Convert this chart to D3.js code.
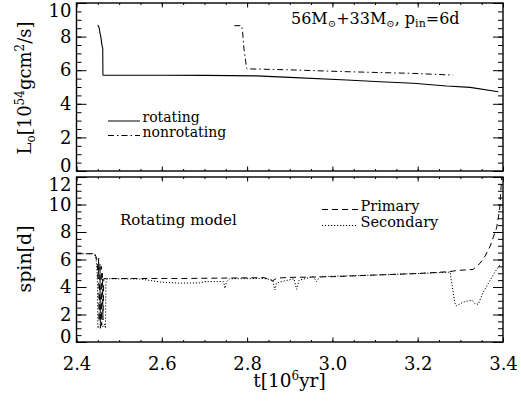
<!DOCTYPE html>
<html><head><meta charset="utf-8">
<script src="https://cdn.jsdelivr.net/npm/d3@7"></script>
<style>body{margin:0;background:#fff}svg{display:block}text{font-family:"DejaVu Serif",serif;fill:#000}</style>
</head><body><svg id="c" width="521" height="405"></svg>
<script>
// ---- data ----
const xTicks = [2.4, 2.6, 2.8, 3.0, 3.2, 3.4];
const topYTicks = [0, 2, 4, 6, 8, 10];
const botYTicks = [0, 2, 4, 6, 8, 10, 12];

const rotT = [2.4497, 2.4515, 2.4535, 2.455, 2.457, 2.459, 2.4605, 2.4615, 2.462, 2.464, 2.60, 2.70, 2.822, 2.90, 3.034, 3.10, 3.189, 3.268, 3.323, 3.389];
const rotL = [8.69, 8.62, 8.49, 8.2, 8.0, 7.6, 7.4, 7.3, 5.71, 5.70, 5.70, 5.69, 5.66, 5.57, 5.42, 5.33, 5.22, 5.06, 4.98, 4.72];

const nonT = [2.770, 2.787, 2.789, 2.793, 2.799, 2.801, 2.90, 3.034, 3.189, 3.283];
const nonL = [8.65, 8.65, 8.4, 7.2, 6.11, 6.08, 6.02, 5.91, 5.81, 5.71];

const priT = [2.400, 2.438, 2.442, 2.447, 2.449, 2.450, 2.451, 2.452, 2.453, 2.455, 2.456, 2.458, 2.459, 2.461, 2.462, 2.464, 2.470, 2.55, 2.65, 2.75, 2.84, 2.86, 2.87, 2.90, 2.95, 3.00, 3.10, 3.20, 3.276, 3.291, 3.330, 3.346, 3.358, 3.370, 3.377, 3.385, 3.392, 3.398];
const priS = [6.42, 6.42, 6.5, 6.1, 5.6, 4.7, 4.6, 6.1, 1.5, 5.7, 1.0, 5.5, 1.2, 5.0, 1.6, 4.6, 4.62, 4.62, 4.62, 4.65, 4.68, 4.45, 4.65, 4.7, 4.72, 4.75, 4.87, 4.98, 5.12, 5.2, 5.28, 5.72, 6.25, 6.98, 7.6, 8.3, 9.6, 12.5];

const secT = [2.400, 2.438, 2.443, 2.447, 2.449, 2.450, 2.454, 2.458, 2.462, 2.466, 2.468, 2.469, 2.472, 2.55, 2.60, 2.643, 2.69, 2.70, 2.745, 2.748, 2.752, 2.759, 2.84, 2.86, 2.865, 2.869, 2.91, 2.916, 2.922, 2.955, 2.963, 2.97, 3.0, 3.1, 3.2, 3.276, 3.287, 3.29, 3.307, 3.327, 3.334, 3.342, 3.353, 3.370, 3.381, 3.395];
const secS = [6.42, 6.42, 6.3, 5.8, 4.5, 1.0, 1.2, 1.4, 1.1, 1.3, 1.0, 4.3, 4.6, 4.58, 4.35, 4.28, 4.3, 4.39, 4.39, 3.9, 4.4, 4.6, 4.62, 4.5, 3.78, 4.3, 4.6, 3.83, 4.5, 4.75, 4.39, 4.75, 4.78, 4.87, 4.98, 5.08, 2.86, 2.62, 2.9, 3.05, 2.8, 2.74, 3.6, 4.5, 5.1, 5.7];

// ---- layout ----
const svg = d3.select("#c");
const L = 76.5, R = 503;
const topP = {y0: 3, y1: 171}, botP = {y0: 177, y1: 342};
const x = d3.scaleLinear().domain([2.4, 3.4]).range([L, R]);
const yT = d3.scaleLinear().domain([0, 10]).range([topP.y1, topP.y0]);
const yB = d3.scaleLinear().domain([0, 12]).range([botP.y1, botP.y0]);
const xMinor = d3.range(2.4, 3.4001, 0.05).map(v => +v.toFixed(2));
const yTMinor = d3.range(0, 10.001, 0.5);
const yBMinor = d3.range(0, 12.001, 0.5);

svg.append("defs").selectAll("clipPath").data([["cT", topP], ["cB", botP]]).join("clipPath")
  .attr("id", d => d[0]).append("rect")
  .attr("x", L).attr("width", R - L).attr("y", d => d[1].y0).attr("height", d => d[1].y1 - d[1].y0);

function panel(y, P, yMajor, yMinor, showX) {
  const g = svg.append("g");
  const styleAxis = s => { s.select(".domain").remove(); s.selectAll("line").attr("stroke", "#000").attr("stroke-width", 1); };
  // left
  g.append("g").attr("transform", `translate(${L},0)`).call(d3.axisLeft(y).tickValues(yMinor).tickSize(-5).tickFormat("")).call(styleAxis);
  const la = g.append("g").attr("transform", `translate(${L},0)`)
    .call(d3.axisLeft(y).tickValues(yMajor).tickSize(-10).tickPadding(5).tickFormat(d3.format("d"))).call(styleAxis);
  la.selectAll("text").attr("font-size", 18).attr("font-family", "DejaVu Serif").attr("fill", "#000")
    .attr("dy", d => d === yMajor[yMajor.length - 1] ? "0.74em" : d === 0 ? "0.02em" : "0.32em");
  // right
  g.append("g").attr("transform", `translate(${R},0)`).call(d3.axisRight(y).tickValues(yMinor).tickSize(-5).tickFormat("")).call(styleAxis);
  g.append("g").attr("transform", `translate(${R},0)`).call(d3.axisRight(y).tickValues(yMajor).tickSize(-10).tickFormat("")).call(styleAxis);
  // top & bottom
  g.append("g").attr("transform", `translate(0,${P.y0})`).call(d3.axisTop(x).tickValues(xMinor).tickSize(-2).tickFormat("")).call(styleAxis);
  g.append("g").attr("transform", `translate(0,${P.y0})`).call(d3.axisTop(x).tickValues(xTicks).tickSize(-4.5).tickFormat("")).call(styleAxis);
  g.append("g").attr("transform", `translate(0,${P.y1})`).call(d3.axisBottom(x).tickValues(xMinor).tickSize(-2).tickFormat("")).call(styleAxis);
  const ba = g.append("g").attr("transform", `translate(0,${P.y1})`)
    .call(d3.axisBottom(x).tickValues(xTicks).tickSize(-4.5).tickPadding(15).tickFormat(showX ? d3.format(".1f") : "")).call(styleAxis);
  ba.selectAll("text").attr("font-size", 18).attr("font-family", "DejaVu Serif").attr("fill", "#000");
  // frame
  g.append("rect").attr("x", L).attr("y", P.y0).attr("width", R - L).attr("height", P.y1 - P.y0)
    .attr("fill", "none").attr("stroke", "#000").attr("stroke-width", 1.4);
}
panel(yT, topP, topYTicks, yTMinor, false);
panel(yB, botP, botYTicks, yBMinor, true);

function series(ts, vs, y, clip, dash, w) {
  const line = d3.line().x(d => x(d[0])).y(d => y(d[1]));
  svg.append("path").datum(ts.map((t, i) => [t, vs[i]])).attr("d", line)
    .attr("clip-path", `url(#${clip})`).attr("fill", "none").attr("stroke", "#000")
    .attr("stroke-width", w || 1).attr("stroke-dasharray", dash);
}
series(rotT, rotL, yT, "cT", null, 1.1);
series(nonT, nonL, yT, "cT", "6,3,1.5,3", 1);
series(priT, priS, yB, "cB", "6,4", 1);
series(secT, secS, yB, "cB", "1.2,1.8", 1);

// legends
function leg(x1, x2, yy, dash, label, fs) {
  svg.append("line").attr("x1", x1).attr("x2", x2).attr("y1", yy).attr("y2", yy)
    .attr("stroke", "#000").attr("stroke-width", 1).attr("stroke-dasharray", dash);
  svg.append("text").attr("x", x2 + 2.5).attr("y", yy + 1.2).attr("font-size", fs).text(label);
}
leg(108, 140, 121, null, "rotating", 14);
leg(108, 140, 135.5, "6,3,1.5,3", "nonrotating", 14);
leg(322, 358, 209.5, "6,4", "Primary", 14.5);
leg(322, 358, 225.5, "1.2,1.8", "Secondary", 14.5);
svg.append("text").attr("x", 120).attr("y", 225).attr("font-size", 15).text("Rotating model");

// title
const tt = svg.append("text").attr("x", 291).attr("y", 23.5).attr("font-size", 16);
tt.append("tspan").text("56M");
tt.append("tspan").attr("font-size", 10).attr("dy", 3).text("\u2299");
tt.append("tspan").attr("dy", -3).text("+33M");
tt.append("tspan").attr("font-size", 10).attr("dy", 3).text("\u2299");
tt.append("tspan").attr("dy", -3).text(",  p");
tt.append("tspan").attr("font-size", 11).attr("dy", 3).text("in");
tt.append("tspan").attr("dy", -3).text("=6d");

// axis titles
const yt = svg.append("text").attr("transform", "translate(31,88) rotate(-90)").attr("text-anchor", "middle").attr("font-size", 18);
yt.append("tspan").text("L");
yt.append("tspan").attr("font-size", 12).attr("dy", 4).text("o");
yt.append("tspan").attr("dy", -4).text("[10");
yt.append("tspan").attr("font-size", 12).attr("dy", -7).text("54");
yt.append("tspan").attr("dy", 7).text("gcm");
yt.append("tspan").attr("font-size", 12).attr("dy", -7).text("2");
yt.append("tspan").attr("dy", 7).text("/s]");

svg.append("text").attr("transform", "translate(31,259) rotate(-90)").attr("text-anchor", "middle").attr("font-size", 19).text("spin[d]");

const xt = svg.append("text").attr("x", 289.5).attr("y", 387).attr("text-anchor", "middle").attr("font-size", 18.5);
xt.append("tspan").text("t[10");
xt.append("tspan").attr("font-size", 12).attr("dy", -7).text("6");
xt.append("tspan").attr("dy", 7).text("yr]");
</script></body></html>
